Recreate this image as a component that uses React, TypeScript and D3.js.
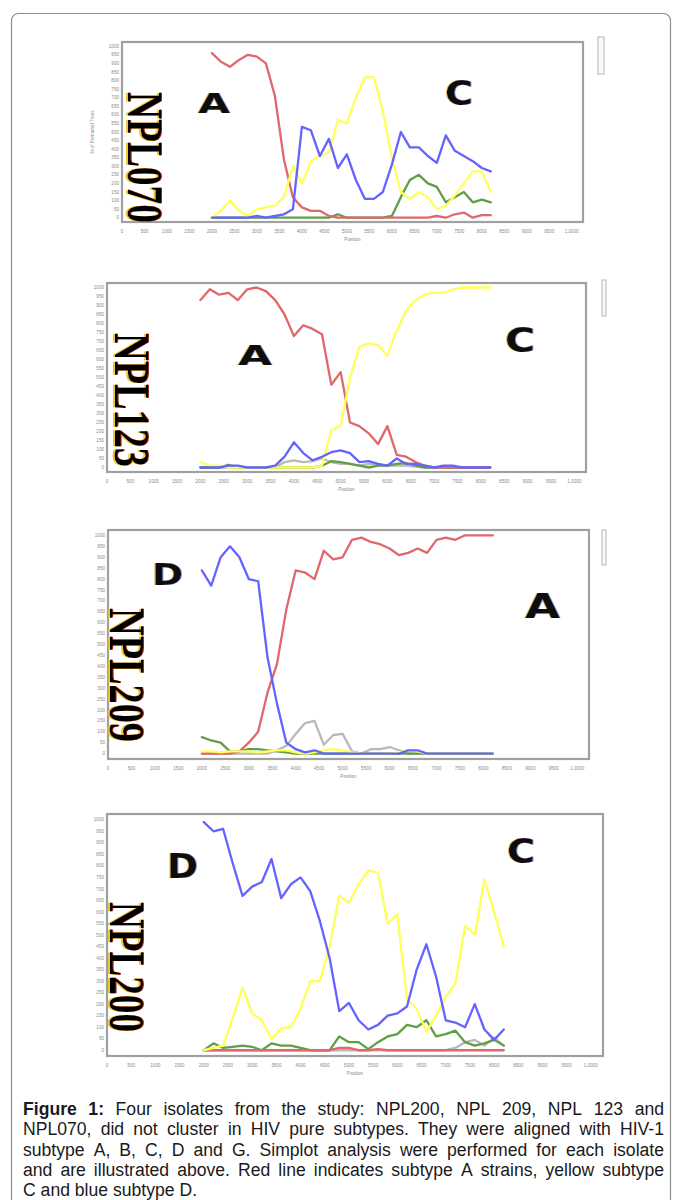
import React, { useMemo } from 'react';
import * as d3 from 'd3';

// window centres (bp) used by every simplot panel
const positions = [2000, 2200, 2400, 2600, 2800, 3000, 3200, 3400, 3600, 3800, 4000, 4200, 4400, 4600, 4800, 5000,
  5200, 5400, 5600, 5800, 6000, 6200, 6400, 6600, 6800, 7000, 7200, 7400, 7600, 7800, 8000, 8200];

const xTicks = [0, 500, 1000, 1500, 2000, 2500, 3000, 3500, 4000, 4500, 5000, 5500, 6000, 6500, 7000, 7500, 8000,
  8500, 9000, 9500, 10000];
const yTicks = [0, 5, 10, 15, 20, 25, 30, 35, 40, 45, 50, 55, 60, 65, 70, 75, 80, 85, 90, 95, 100];

// NPL070
const npl070Red = [96, 91, 88, 92, 95, 94, 90, 71, 34, 12, 6, 4, 4, 1, 0, 0, 0, 0, 0, 0, 0, 0, 0, 0, 0, 1, 0, 2, 3, 0, 1.5, 1.5];
const npl070Yellow = [0, 4, 10, 4, 1, 5, 6, 7, 12, 30, 20, 33, 36, 38, 57, 55, 70, 82, 82, 62, 35, 15, 11, 15, 12, 5, 7, 13, 20, 27, 27, 15];
const npl070Blue = [0, 0, 0, 0, 0, 1, 0, 1, 2, 5, 53, 51, 36, 46, 29, 37, 22, 11, 11, 15, 31, 50, 41, 41, 36, 32, 48, 39, 36, 33, 29, 27];
const npl070Green = [0, 0, 0, 0, 0, 0, 0, 0, 0, 0, 0, 0, 0, 0, 2, 0, 0, 0, 0, 0, 1, 12, 22, 25, 20, 18, 9, 12, 15, 9, 10.5, 9];

// NPL123
const npl123Red = [93, 99, 96, 97, 93, 99, 100, 98, 93, 85, 73, 79, 77, 74, 46, 53, 25, 23, 19, 13, 23, 7, 6, 3, 1, 0, 0, 0, 0, 0, 0, 0];
const npl123Yellow = [3, 1, 1, 0, 0, 0, 0, 0, 0, 0, 0, 0, 0, 1, 21, 23, 50, 67, 69, 68, 62, 76, 87, 93, 96, 97, 97, 99, 100, 100, 100, 100];
const npl123Blue = [0, 0, 0, 1, 1, 0, 0, 0, 1, 6, 14, 8, 4, 6, 8.5, 9.5, 8, 3, 3.5, 2, 1, 5, 2, 2, 1, 0, 1, 1, 0, 0, 0, 0];
const npl123Green = [0, 0, 0, 1.5, 0, 0, 0, 0, 0, 0, 0, 0, 0, 1, 3.5, 3, 2, 1, 0, 1, 1, 2, 2.5, 1, 0, 0, 0, 0, 0, 0, 0, 0];
const npl123Gray = [0, 0, 0, 0, 0, 0, 0, 0, 0, 3, 4, 3, 3.5, 5, 3, 2, 2, 1, 2, 1.5, 1, 1, 1, 0.5, 0, 0, 0, 0, 0, 0, 0, 0];

// NPL209
const npl209Red = [0, 0, 0, 0, 1, 5, 10, 28, 41, 66, 84, 83, 80, 93, 89, 90, 98, 99, 97, 96, 94, 91, 92, 94, 92, 98, 99, 98, 100, 100, 100, 100];
const npl209Yellow = [1, 1, 0.5, 1, 1, 1, 0.5, 1, 1.5, 1.5, 0.5, 0, 0.5, 1.5, 2, 1.5, 0.5, 0, 0, 0, 0, 0.5, 1.5, 1, 0, 0, 0, 0, 0, 0, 0, 0];
const npl209Blue = [84, 77, 90, 95, 90, 80, 79, 44, 23, 5, 2, 0.5, 1.5, 0, 0, 0, 0, 0, 0, 0, 0, 0, 1.5, 1.5, 0, 0, 0, 0, 0, 0, 0, 0];
const npl209Green = [7.5, 6, 5, 1, 1, 2, 2, 1.5, 1, 0.5, 0, 0, 0, 0, 0, 0, 0, 0, 0, 0, 0, 0, 0, 0, 0, 0, 0, 0, 0, 0, 0, 0];
const npl209Gray = [0, 0, 0, 0, 0, 0, 0, 0, 1.5, 3.5, 9, 14, 15, 4, 8.5, 9, 1, 0, 2, 2, 3, 1.5, 0, 0, 0, 0, 0, 0, 0, 0, 0, 0];

// NPL200
const npl200Red = [0, 0, 0, 0, 0, 0, 0, 0, 0, 0, 0, 0, 0, 0, 1, 1, 0, 0, 0.5, 0, 0, 0, 0, 0, 0, 0, 0, 0, 0, 0, 0, 0];
const npl200Yellow = [0, 1, 2, 14, 27, 16, 13, 5, 9.5, 10, 18, 30, 30, 45, 67, 64, 72, 78, 77, 55, 59, 22, 18, 8, 15, 23, 29, 54, 50, 74, 60, 45];
const npl200Blue = [99, 95, 96, 81, 67, 71, 73, 83, 66, 72, 75, 69, 56, 40, 17, 20.5, 13, 9, 11, 15, 16, 19, 35, 46, 32, 13, 12, 10, 20, 9, 4.5, 9];
const npl200Green = [0, 3, 1, 1.5, 2, 1.5, 0, 3, 2, 2, 1, 0, 0, 0, 6, 3.5, 3.5, 0.5, 3.5, 6, 7, 11, 10, 13, 6, 7, 8.5, 3.5, 2, 3, 4.5, 2];
const npl200Gray = [0, 0, 0, 0, 0, 0, 0, 0, 0, 0, 0, 0, 0, 0, 0, 0, 0, 0, 0, 0, 0, 0, 0, 0, 0, 0, 1, 3.5, 4.5, 2, 5.5, 2];

const colors: Record<string, string> = {
  B: '#b9b9b9', G: '#5f9e45', A: '#e0676a', C: '#ffff5a', D: '#6464ff'
};
const drawOrder = ['B', 'G', 'A', 'C', 'D'];

const panels = [
  {
    name: 'NPL070', left: 122, top: 42, right: 583, bottom: 222,
    series: { G: npl070Green, A: npl070Red, C: npl070Yellow, D: npl070Blue } as Record<string, number[]>,
    labels: [{ t: 'A', pos: 2045, val: 61, w: 32, h: 19 }, { t: 'C', pos: 7493, val: 65.8, w: 28, h: 25 }],
    nx: 128, ny: 92, nlen: 131, legend: [598, 37, 6, 37], yTitle: true
  },
  {
    name: 'NPL123', left: 107, top: 283, right: 586, bottom: 472,
    series: { B: npl123Gray, G: npl123Green, A: npl123Red, C: npl123Yellow, D: npl123Blue } as Record<string, number[]>,
    labels: [{ t: 'A', pos: 3167, val: 56.9, w: 34, h: 20 }, { t: 'C', pos: 8838, val: 64.2, w: 30, h: 25 }],
    nx: 115, ny: 333, nlen: 134, legend: [602, 280, 4, 36], yTitle: false
  },
  {
    name: 'NPL209', left: 108, top: 530, right: 589, bottom: 759,
    series: { B: npl209Gray, G: npl209Green, C: npl209Yellow, A: npl209Red, D: npl209Blue } as Record<string, number[]>,
    labels: [{ t: 'D', pos: 1268, val: 77.3, w: 31, h: 22 }, { t: 'A', pos: 9259, val: 62.2, w: 35, h: 25 }],
    nx: 110, ny: 608, nlen: 134, legend: [602, 530, 4, 35], yTitle: false
  },
  {
    name: 'NPL200', left: 107, top: 814, right: 603, bottom: 1056,
    series: { B: npl200Gray, G: npl200Green, A: npl200Red, C: npl200Yellow, D: npl200Blue } as Record<string, number[]>,
    labels: [{ t: 'D', pos: 1560, val: 74.7, w: 31, h: 25 }, { t: 'C', pos: 8556, val: 81.2, w: 28, h: 25 }],
    nx: 110, ny: 902, nlen: 130, legend: null, yTitle: false
  }
];

type PanelDef = typeof panels[number];

function Panel({ p }: { p: PanelDef }) {
  const x = d3.scaleLinear().domain([0, 10250]).range([p.left, p.right]);
  const y = d3.scaleLinear().domain([-2.5, 102.5]).range([p.bottom, p.top]);
  const line = d3.line<number>().x((_, i) => x(positions[i])).y(d => y(d));
  const tickFont = { fontFamily: 'Liberation Sans, Arial, sans-serif', fontSize: 4.6, fill: '#8a8a8a' };

  return (
    <g>
      <rect x={p.left} y={p.top} width={p.right - p.left} height={p.bottom - p.top}
        fill="#fff" stroke="#a0a0a0" strokeWidth={2.2} />
      {yTicks.map(t => (
        <text key={'y' + t} x={p.left - 3} y={y(t)} dy="0.35em" textAnchor="end" {...tickFont}>{t * 10}</text>
      ))}
      {xTicks.map(t => (
        <text key={'x' + t} x={x(t)} y={p.bottom + 11} textAnchor="middle" {...tickFont}>
          {t === 10000 ? '1,0000' : t}
        </text>
      ))}
      <text x={(p.left + p.right) / 2} y={p.bottom + 19} textAnchor="middle" {...tickFont}>Position</text>
      {p.yTitle && (
        <text transform={`translate(${p.left - 28},${(p.top + p.bottom) / 2}) rotate(-90)`} textAnchor="middle"
          {...tickFont}>% of Permuted Trees</text>
      )}
      {p.legend && (
        <rect x={p.legend[0]} y={p.legend[1]} width={p.legend[2]} height={p.legend[3]}
          fill="#fafafa" stroke="#b5b5b5" strokeWidth={1} />
      )}
      <g filter="url(#soft)">
        {drawOrder.filter(k => p.series[k]).map(k => (
          <path key={k} d={line(p.series[k]) || ''} fill="none" stroke={colors[k]} strokeWidth={2.3}
            strokeLinejoin="round" strokeLinecap="round" />
        ))}
      </g>
      {p.labels.map(l => (
        <g key={l.t + l.pos} filter="url(#fringeBlue)">
          <text x={x(l.pos)} y={y(l.val)} textAnchor="middle" fontFamily="DejaVu Sans, Arial, sans-serif"
            fontWeight="bold" fontSize={l.h / 0.73} textLength={l.w} lengthAdjust="spacingAndGlyphs"
            fill="#111">{l.t}</text>
        </g>
      ))}
      <g filter="url(#fringeRed)">
        <g transform={`translate(${p.nx},${p.ny}) rotate(90)`}>
          <text x={0} y={0} fontFamily="Liberation Serif, Times New Roman, serif" fontWeight="bold"
            fontSize={50} textLength={p.nlen} lengthAdjust="spacingAndGlyphs" fill="#000">{p.name}</text>
        </g>
      </g>
    </g>
  );
}

const captionLines = [
  [{ t: 'Figure', b: true }, { t: '1:', b: true }, 'Four', 'isolates', 'from', 'the', 'study:', 'NPL200,', 'NPL', '209,', 'NPL', '123', 'and'],
  'NPL070, did not cluster in HIV pure subtypes. They were aligned with HIV-1'.split(' '),
  'subtype A, B, C, D and G. Simplot analysis were performed for each isolate'.split(' '),
  'and are illustrated above. Red line indicates subtype A strains, yellow subtype'.split(' '),
  'C and blue subtype D.'.split(' ')
];

const CAP_LEFT = 23;
const CAP_RIGHT = 664;
const CAP_SIZE = 17.6;
const CAP_FONT = 'Liberation Sans, Arial, sans-serif';

function Caption() {
  const placed = useMemo(() => {
    const ctx = document.createElement('canvas').getContext('2d')!;
    const measure = (t: string, b: boolean) => {
      ctx.font = `${b ? 'bold ' : ''}${CAP_SIZE}px "Liberation Sans", Arial, sans-serif`;
      return ctx.measureText(t).width;
    };
    const space = measure(' ', false);
    return captionLines.map((ln, li) => {
      const words = ln.map(w => (typeof w === 'string' ? { t: w, b: false } : w));
      const widths = words.map(w => measure(w.t, w.b));
      const total = d3.sum(widths);
      const last = li === captionLines.length - 1;
      const gap = last ? space : (CAP_RIGHT - CAP_LEFT - total) / (words.length - 1);
      let cx = CAP_LEFT;
      return words.map((w, i) => {
        const r = { ...w, x: cx };
        cx += widths[i] + gap;
        return r;
      });
    });
  }, []);

  return (
    <g>
      {placed.map((ln, li) => ln.map((w, wi) => (
        <text key={li + '-' + wi} x={w.x} y={1115 + li * 20.3} fontFamily={CAP_FONT} fontSize={CAP_SIZE}
          fontWeight={w.b ? 'bold' : 'normal'} fill="#1a1a1a">{w.t}</text>
      )))}
    </g>
  );
}

export default function App() {
  return (
    <svg width={677} height={1200} style={{ position: 'absolute', left: 0, top: 0, background: '#fff' }}>
      <defs>
        <filter id="soft" x="-5%" y="-5%" width="110%" height="110%">
          <feGaussianBlur stdDeviation={0.45} />
        </filter>
        <filter id="fringeBlue" x="-20%" y="-20%" width="140%" height="140%">
          <feOffset in="SourceAlpha" dx={-1.3} dy={0} result="l" />
          <feFlood floodColor="#e0a020" floodOpacity={0.75} />
          <feComposite in2="l" operator="in" result="lc" />
          <feOffset in="SourceAlpha" dx={1.3} dy={0} result="r" />
          <feFlood floodColor="#4060d0" floodOpacity={0.6} />
          <feComposite in2="r" operator="in" result="rc" />
          <feMerge result="m">
            <feMergeNode in="lc" />
            <feMergeNode in="rc" />
            <feMergeNode in="SourceGraphic" />
          </feMerge>
          <feGaussianBlur in="m" stdDeviation={0.45} />
        </filter>
        <filter id="fringeRed" x="-20%" y="-5%" width="140%" height="110%">
          <feOffset in="SourceAlpha" dx={-1.6} dy={0} result="l" />
          <feFlood floodColor="#f0c020" floodOpacity={0.9} />
          <feComposite in2="l" operator="in" result="lc" />
          <feOffset in="SourceAlpha" dx={1.2} dy={0} result="r" />
          <feFlood floodColor="#8a1a10" floodOpacity={0.9} />
          <feComposite in2="r" operator="in" result="rc" />
          <feMerge result="m">
            <feMergeNode in="lc" />
            <feMergeNode in="rc" />
            <feMergeNode in="SourceGraphic" />
          </feMerge>
          <feGaussianBlur in="m" stdDeviation={0.4} />
        </filter>
      </defs>
      <rect x={0} y={0} width={677} height={1200} fill="#fff" />
      <rect x={11.5} y={13.5} width={659} height={1260} rx={7} fill="none" stroke="#8e8e8e" strokeWidth={1.2} />
      {panels.map(p => <Panel key={p.name} p={p} />)}
      <Caption />
    </svg>
  );
}
